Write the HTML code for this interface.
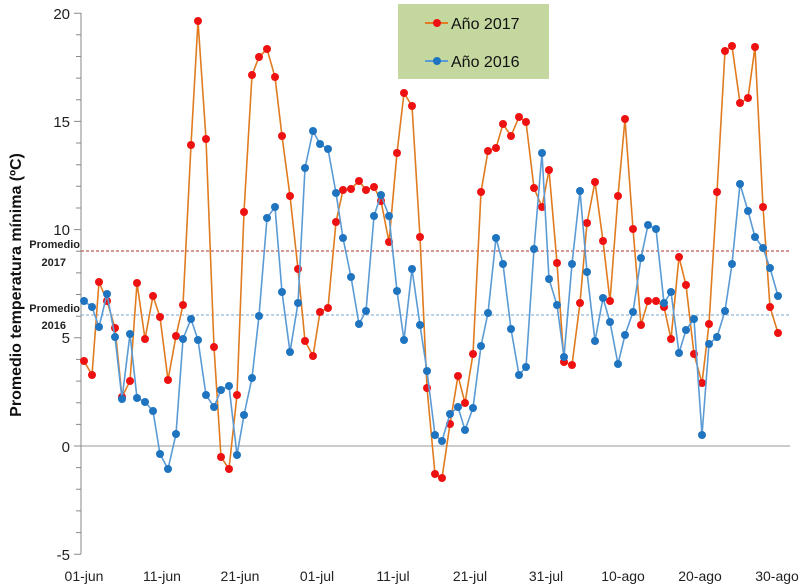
<!DOCTYPE html>
<html><head><meta charset="utf-8"><style>
html,body{margin:0;padding:0;background:#fff;}
svg{display:block;font-family:"Liberation Sans","DejaVu Sans",sans-serif;}
</style></head><body>
<svg width="800" height="585" viewBox="0 0 800 585" xmlns="http://www.w3.org/2000/svg">
<rect width="800" height="585" fill="#fff"/>
<path stroke="#888" stroke-width="1" fill="none" d="M74,13.2H81M76,34.8H81M76,56.5H81M76,78.1H81M76,99.8H81M74,121.4H81M76,143H81M76,164.7H81M76,186.3H81M76,208H81M74,229.6H81M76,251.2H81M76,272.9H81M76,294.5H81M76,316.2H81M74,337.8H81M76,359.4H81M76,381.1H81M76,402.7H81M76,424.4H81M74,446H81M76,467.6H81M76,489.3H81M76,510.9H81M76,532.6H81M74,554.2H81"/>
<line x1="81" y1="13" x2="81" y2="554" stroke="#888"/>
<line x1="81" y1="446" x2="790" y2="446" stroke="#999"/>
<line x1="81" y1="251" x2="790" y2="251" stroke="#b03030" stroke-dasharray="3,2" stroke-width="1"/>
<line x1="81" y1="315" x2="790" y2="315" stroke="#7aa6cf" stroke-dasharray="3,2" stroke-width="1"/>
<g font-size="15" fill="#222" text-anchor="end">
<text x="70" y="19">20</text><text x="70" y="127">15</text><text x="70" y="235">10</text>
<text x="70" y="343">5</text><text x="70" y="452">0</text><text x="70" y="560">-5</text>
</g>
<g font-size="11" font-weight="bold" fill="#222" text-anchor="end">
<text x="80" y="248">Promedio</text><text x="66" y="266">2017</text>
<text x="80" y="312">Promedio</text><text x="66" y="329">2016</text>
</g>
<text transform="translate(21,285) rotate(-90)" font-size="16" font-weight="bold" text-anchor="middle" fill="#111">Promedio temperatura mínima (ºC)</text>
<g font-size="14" fill="#222" text-anchor="middle">
<text x="84" y="581">01-jun</text><text x="162" y="581">11-jun</text><text x="240" y="581">21-jun</text>
<text x="317" y="581">01-jul</text><text x="393" y="581">11-jul</text><text x="470" y="581">21-jul</text>
<text x="546" y="581">31-jul</text><text x="623" y="581">10-ago</text><text x="700" y="581">20-ago</text>
<text x="777" y="581">30-ago</text>
</g>
<polyline fill="none" stroke="#e07b20" stroke-width="1.6" points="84,361 92,375 99,282 107,301 115,328 122,397 130,381 137,283 145,339 153,296 160,317 168,380 176,336 183,305 191,145 198,21 206,139 214,347 221,457 229,469 237,395 244,212 252,75 259,57 267,49 275,77 282,136 290,196 298,269 305,341 313,356 320,312 328,308 336,222 343,190 351,189 359,181 366,190 374,187 381,201 389,242 397,153 404,93 412,106 420,237 427,388 435,474 442,478 450,424 458,376 465,403 473,354 481,192 488,151 496,148 503,124 511,136 519,117 526,122 534,188 542,207 549,170 557,263 564,362 572,365 580,303 587,223 595,182 603,241 610,301 618,196 625,119 633,229 641,325 648,301 656,301 664,307 671,339 679,257 686,285 694,354 702,383 709,324 717,192 725,51 732,46 740,103 748,98 755,47 763,207 770,307 778,333"/>
<g fill="#ee1111">
<circle cx="84" cy="361" r="4"/><circle cx="92" cy="375" r="4"/><circle cx="99" cy="282" r="4"/><circle cx="107" cy="301" r="4"/><circle cx="115" cy="328" r="4"/><circle cx="122" cy="397" r="4"/><circle cx="130" cy="381" r="4"/><circle cx="137" cy="283" r="4"/><circle cx="145" cy="339" r="4"/><circle cx="153" cy="296" r="4"/><circle cx="160" cy="317" r="4"/><circle cx="168" cy="380" r="4"/><circle cx="176" cy="336" r="4"/><circle cx="183" cy="305" r="4"/><circle cx="191" cy="145" r="4"/><circle cx="198" cy="21" r="4"/><circle cx="206" cy="139" r="4"/><circle cx="214" cy="347" r="4"/><circle cx="221" cy="457" r="4"/><circle cx="229" cy="469" r="4"/><circle cx="237" cy="395" r="4"/><circle cx="244" cy="212" r="4"/><circle cx="252" cy="75" r="4"/><circle cx="259" cy="57" r="4"/><circle cx="267" cy="49" r="4"/><circle cx="275" cy="77" r="4"/><circle cx="282" cy="136" r="4"/><circle cx="290" cy="196" r="4"/><circle cx="298" cy="269" r="4"/><circle cx="305" cy="341" r="4"/><circle cx="313" cy="356" r="4"/><circle cx="320" cy="312" r="4"/><circle cx="328" cy="308" r="4"/><circle cx="336" cy="222" r="4"/><circle cx="343" cy="190" r="4"/><circle cx="351" cy="189" r="4"/><circle cx="359" cy="181" r="4"/><circle cx="366" cy="190" r="4"/><circle cx="374" cy="187" r="4"/><circle cx="381" cy="201" r="4"/><circle cx="389" cy="242" r="4"/><circle cx="397" cy="153" r="4"/><circle cx="404" cy="93" r="4"/><circle cx="412" cy="106" r="4"/><circle cx="420" cy="237" r="4"/><circle cx="427" cy="388" r="4"/><circle cx="435" cy="474" r="4"/><circle cx="442" cy="478" r="4"/><circle cx="450" cy="424" r="4"/><circle cx="458" cy="376" r="4"/><circle cx="465" cy="403" r="4"/><circle cx="473" cy="354" r="4"/><circle cx="481" cy="192" r="4"/><circle cx="488" cy="151" r="4"/><circle cx="496" cy="148" r="4"/><circle cx="503" cy="124" r="4"/><circle cx="511" cy="136" r="4"/><circle cx="519" cy="117" r="4"/><circle cx="526" cy="122" r="4"/><circle cx="534" cy="188" r="4"/><circle cx="542" cy="207" r="4"/><circle cx="549" cy="170" r="4"/><circle cx="557" cy="263" r="4"/><circle cx="564" cy="362" r="4"/><circle cx="572" cy="365" r="4"/><circle cx="580" cy="303" r="4"/><circle cx="587" cy="223" r="4"/><circle cx="595" cy="182" r="4"/><circle cx="603" cy="241" r="4"/><circle cx="610" cy="301" r="4"/><circle cx="618" cy="196" r="4"/><circle cx="625" cy="119" r="4"/><circle cx="633" cy="229" r="4"/><circle cx="641" cy="325" r="4"/><circle cx="648" cy="301" r="4"/><circle cx="656" cy="301" r="4"/><circle cx="664" cy="307" r="4"/><circle cx="671" cy="339" r="4"/><circle cx="679" cy="257" r="4"/><circle cx="686" cy="285" r="4"/><circle cx="694" cy="354" r="4"/><circle cx="702" cy="383" r="4"/><circle cx="709" cy="324" r="4"/><circle cx="717" cy="192" r="4"/><circle cx="725" cy="51" r="4"/><circle cx="732" cy="46" r="4"/><circle cx="740" cy="103" r="4"/><circle cx="748" cy="98" r="4"/><circle cx="755" cy="47" r="4"/><circle cx="763" cy="207" r="4"/><circle cx="770" cy="307" r="4"/><circle cx="778" cy="333" r="4"/>
</g>
<polyline fill="none" stroke="#5b9bd5" stroke-width="1.6" points="84,301 92,307 99,327 107,294 115,337 122,399 130,334 137,398 145,402 153,411 160,454 168,469 176,434 183,339 191,319 198,340 206,395 214,407 221,390 229,386 237,455 244,415 252,378 259,316 267,218 275,207 282,292 290,352 298,303 305,168 313,131 320,144 328,149 336,193 343,238 351,277 359,324 366,311 374,216 381,195 389,216 397,291 404,340 412,269 420,325 427,371 435,435 442,441 450,414 458,407 465,430 473,408 481,346 488,313 496,238 503,264 511,329 519,375 526,367 534,249 542,153 549,279 557,305 564,357 572,264 580,191 587,272 595,341 603,298 610,322 618,364 625,335 633,312 641,258 648,225 656,229 664,303 671,292 679,353 686,330 694,319 702,435 709,344 717,337 725,311 732,264 740,184 748,211 755,237 763,248 770,268 778,296"/>
<g fill="#1f74c0">
<circle cx="84" cy="301" r="4"/><circle cx="92" cy="307" r="4"/><circle cx="99" cy="327" r="4"/><circle cx="107" cy="294" r="4"/><circle cx="115" cy="337" r="4"/><circle cx="122" cy="399" r="4"/><circle cx="130" cy="334" r="4"/><circle cx="137" cy="398" r="4"/><circle cx="145" cy="402" r="4"/><circle cx="153" cy="411" r="4"/><circle cx="160" cy="454" r="4"/><circle cx="168" cy="469" r="4"/><circle cx="176" cy="434" r="4"/><circle cx="183" cy="339" r="4"/><circle cx="191" cy="319" r="4"/><circle cx="198" cy="340" r="4"/><circle cx="206" cy="395" r="4"/><circle cx="214" cy="407" r="4"/><circle cx="221" cy="390" r="4"/><circle cx="229" cy="386" r="4"/><circle cx="237" cy="455" r="4"/><circle cx="244" cy="415" r="4"/><circle cx="252" cy="378" r="4"/><circle cx="259" cy="316" r="4"/><circle cx="267" cy="218" r="4"/><circle cx="275" cy="207" r="4"/><circle cx="282" cy="292" r="4"/><circle cx="290" cy="352" r="4"/><circle cx="298" cy="303" r="4"/><circle cx="305" cy="168" r="4"/><circle cx="313" cy="131" r="4"/><circle cx="320" cy="144" r="4"/><circle cx="328" cy="149" r="4"/><circle cx="336" cy="193" r="4"/><circle cx="343" cy="238" r="4"/><circle cx="351" cy="277" r="4"/><circle cx="359" cy="324" r="4"/><circle cx="366" cy="311" r="4"/><circle cx="374" cy="216" r="4"/><circle cx="381" cy="195" r="4"/><circle cx="389" cy="216" r="4"/><circle cx="397" cy="291" r="4"/><circle cx="404" cy="340" r="4"/><circle cx="412" cy="269" r="4"/><circle cx="420" cy="325" r="4"/><circle cx="427" cy="371" r="4"/><circle cx="435" cy="435" r="4"/><circle cx="442" cy="441" r="4"/><circle cx="450" cy="414" r="4"/><circle cx="458" cy="407" r="4"/><circle cx="465" cy="430" r="4"/><circle cx="473" cy="408" r="4"/><circle cx="481" cy="346" r="4"/><circle cx="488" cy="313" r="4"/><circle cx="496" cy="238" r="4"/><circle cx="503" cy="264" r="4"/><circle cx="511" cy="329" r="4"/><circle cx="519" cy="375" r="4"/><circle cx="526" cy="367" r="4"/><circle cx="534" cy="249" r="4"/><circle cx="542" cy="153" r="4"/><circle cx="549" cy="279" r="4"/><circle cx="557" cy="305" r="4"/><circle cx="564" cy="357" r="4"/><circle cx="572" cy="264" r="4"/><circle cx="580" cy="191" r="4"/><circle cx="587" cy="272" r="4"/><circle cx="595" cy="341" r="4"/><circle cx="603" cy="298" r="4"/><circle cx="610" cy="322" r="4"/><circle cx="618" cy="364" r="4"/><circle cx="625" cy="335" r="4"/><circle cx="633" cy="312" r="4"/><circle cx="641" cy="258" r="4"/><circle cx="648" cy="225" r="4"/><circle cx="656" cy="229" r="4"/><circle cx="664" cy="303" r="4"/><circle cx="671" cy="292" r="4"/><circle cx="679" cy="353" r="4"/><circle cx="686" cy="330" r="4"/><circle cx="694" cy="319" r="4"/><circle cx="702" cy="435" r="4"/><circle cx="709" cy="344" r="4"/><circle cx="717" cy="337" r="4"/><circle cx="725" cy="311" r="4"/><circle cx="732" cy="264" r="4"/><circle cx="740" cy="184" r="4"/><circle cx="748" cy="211" r="4"/><circle cx="755" cy="237" r="4"/><circle cx="763" cy="248" r="4"/><circle cx="770" cy="268" r="4"/><circle cx="778" cy="296" r="4"/>
</g>
<rect x="398" y="4" width="151" height="75" fill="#c4d79e"/>
<line x1="425" y1="23" x2="448" y2="23" stroke="#e07b20" stroke-width="2"/>
<circle cx="437" cy="23" r="4" fill="#ee1111"/>
<text x="451" y="29" font-size="16" fill="#111">Año 2017</text>
<line x1="425" y1="61" x2="448" y2="61" stroke="#5b9bd5" stroke-width="2"/>
<circle cx="437" cy="61" r="4" fill="#1f74c0"/>
<text x="451" y="67" font-size="16" fill="#111">Año 2016</text>
</svg>
</body></html>
